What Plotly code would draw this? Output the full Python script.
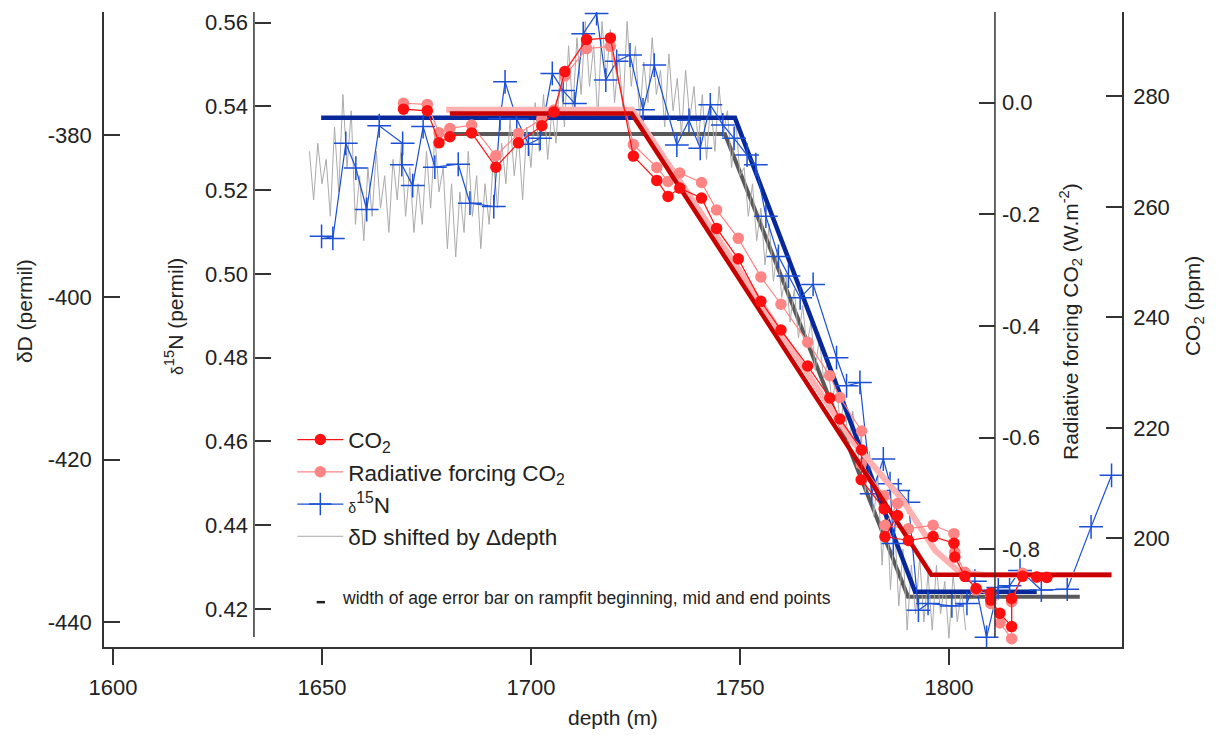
import plotly.graph_objects as go

FONT = "Liberation Sans, Arial, sans-serif"
TXT = "#222222"
AX = "#333333"

# ---------------- data ----------------
co2_depth = [1669.5, 1675.2, 1678.0, 1680.6, 1685.8, 1691.6, 1697.0, 1702.6, 1705.5, 1708.1,
             1713.3, 1719.0, 1724.5, 1730.1, 1732.8, 1735.6, 1740.8, 1744.4, 1749.6, 1755.0,
             1759.8, 1766.2, 1771.5, 1773.9, 1779.1, 1779.0, 1784.5, 1787.7, 1784.7, 1790.3,
             1796.2, 1801.2, 1801.4, 1803.8, 1806.5, 1810.0, 1810.0, 1812.2, 1815.0, 1815.0,
             1817.6, 1821.0, 1823.4]
co2_ppm = [277.7, 277.4, 271.6, 272.7, 273.4, 267.2, 271.6, 274.7, 277.2, 284.5,
           290.3, 290.6, 269.2, 264.8, 261.9, 263.4, 261.6, 256.1, 250.6, 242.9,
           237.7, 231.2, 225.4, 221.6, 216.0, 210.6, 205.3, 204.1, 200.3, 199.6,
           200.3, 199.1, 196.6, 193.1, 190.9, 190.1, 188.8, 186.4, 184.0, 189.1,
           193.1, 193.0, 192.9]

rf_depth = co2_depth
rf_wm2 = [-0.001, -0.003, -0.054, -0.046, -0.040, -0.095, -0.055, -0.029, -0.013, 0.048,
          0.097, 0.101, -0.075, -0.116, -0.141, -0.126, -0.143, -0.192, -0.243, -0.312,
          -0.361, -0.429, -0.489, -0.528, -0.588, -0.647, -0.704, -0.718, -0.757, -0.763,
          -0.757, -0.772, -0.805, -0.841, -0.873, -0.882, -0.897, -0.932, -0.960, -0.894,
          -0.843, -0.850, -0.850]

d15n_depth = [1649.9, 1652.6, 1655.7, 1658.1, 1660.7, 1663.7, 1669.3, 1669.1, 1671.7, 1674.2,
              1677.0, 1682.6, 1685.4, 1691.1, 1692.6, 1693.8, 1696.6, 1699.4, 1702.2, 1705.1,
              1707.7, 1710.5, 1712.5, 1715.7, 1717.9, 1720.5, 1723.7, 1726.8, 1729.5, 1734.9,
              1737.8, 1740.5, 1742.9, 1745.9, 1748.6, 1751.7, 1753.8, 1756.2, 1759.2, 1761.6,
              1764.4, 1767.5, 1773.1, 1775.5, 1778.7, 1781.5, 1784.3, 1785.9, 1786.7, 1787.9,
              1790.3, 1792.7, 1795.0, 1800.7, 1804.3, 1806.2, 1809.0, 1811.8, 1814.5, 1817.0,
              1822.1, 1828.3, 1834.0, 1838.9]
d15n_permil = [0.5090, 0.5085, 0.5312, 0.5253, 0.5154, 0.5354, 0.5312, 0.5261, 0.5211, 0.5352,
               0.5255, 0.5262, 0.5169, 0.5161, 0.5371, 0.5459, 0.5370, 0.5310, 0.5324, 0.5479,
               0.5438, 0.5407, 0.5574, 0.5622, 0.5463, 0.5508, 0.5523, 0.5392, 0.5499, 0.5308,
               0.5367, 0.5300, 0.5404, 0.5356, 0.5324, 0.5284, 0.5261, 0.5138, 0.5042, 0.4995,
               0.4943, 0.4975, 0.4800, 0.4733, 0.4741, 0.4475, 0.4558, 0.4499, 0.4356, 0.4483,
               0.4455, 0.4197, 0.4213, 0.4207, 0.4213, 0.4266, 0.4132, 0.4251, 0.4255, 0.4292,
               0.4245, 0.4247, 0.4396, 0.4519]

# deltaD shifted by delta-depth: one value per metre starting at 1647 m
dD_start = 1647
dD_step = 1
dD_permil = [-382, -388, -381, -386, -383, -390, -379, -387, -375, -384,
             -377, -391, -385, -393, -384, -390, -382, -389, -385, -392,
             -383, -388, -381, -390, -384, -392, -386, -391, -382, -389,
             -380, -387, -384, -394, -386, -395, -387, -392, -382, -390,
             -385, -394, -386, -391, -383, -389, -381, -386, -378, -385,
             -380, -388, -379, -384, -376, -382, -375, -383, -377, -381,
             -372, -379, -369, -377, -368, -375, -366, -374, -369, -378,
             -366, -373, -367, -376, -370, -377, -366, -374, -369, -378,
             -371, -376, -368, -375, -372, -379, -370, -377, -373, -380,
             -372, -378, -374, -381, -375, -383, -376, -382, -374, -380,
             -377, -384, -378, -385, -384, -390, -386, -393, -389, -396,
             -391, -398, -394, -400, -397, -403, -399, -405, -401, -406,
             -403, -409, -405, -410, -408, -413, -410, -416, -412, -419,
             -414, -421, -417, -424, -419, -427, -422, -433, -424, -436,
             -428, -438, -431, -441, -433, -439, -432, -440, -434, -441,
             -433, -439, -435, -442, -434, -440, -436, -441]

# ramp fits
co2_fit_depth = [1680.6, 1724.1, 1795.8, 1838.9]
co2_fit_ppm = [276.9, 276.9, 193.4, 193.4]
rf_fit_depth = [1679.7, 1724.2, 1752.4, 1776.8, 1789.0, 1796.7, 1802.6, 1808.6, 1838.8]
rf_fit_wm2 = [-0.0125, -0.0125, -0.329, -0.605, -0.7125, -0.802, -0.841, -0.846, -0.846]
d15n_fit_depth = [1649.8, 1748.8, 1791.9, 1821.0]
d15n_fit_permil = [0.5373, 0.5373, 0.4241, 0.4241]
dD_fit_depth = [1681.3, 1746.4, 1790.2, 1831.3]
dD_fit_permil = [-379.85, -379.85, -436.9, -436.9]

x_ticks = [1600, 1650, 1700, 1750, 1800]
dD_ticks = [-440, -420, -400, -380]
d15n_ticks = [0.42, 0.44, 0.46, 0.48, 0.50, 0.52, 0.54, 0.56]
rf_ticks = [-0.8, -0.6, -0.4, -0.2, 0.0]
co2_ticks = [200, 220, 240, 260, 280]

# ---------------- figure ----------------
fig = go.Figure()

# ramp fits (drawn under the data of the same axis)
fig.add_trace(go.Scatter(x=dD_fit_depth, y=dD_fit_permil, yaxis="y", mode="lines",
                         line=dict(color="#595959", width=4), showlegend=False, hoverinfo="skip"))
fig.add_trace(go.Scatter(x=d15n_fit_depth, y=d15n_fit_permil, yaxis="y2", mode="lines",
                         line=dict(color="#06289a", width=4.5), showlegend=False, hoverinfo="skip"))
fig.add_trace(go.Scatter(x=rf_fit_depth, y=rf_fit_wm2, yaxis="y3", mode="lines",
                         line=dict(color="#ffb0b0", width=6),
                         showlegend=False, hoverinfo="skip"))
fig.add_trace(go.Scatter(x=co2_fit_depth, y=co2_fit_ppm, yaxis="y4", mode="lines",
                         line=dict(color="#c80000", width=4.5), showlegend=False, hoverinfo="skip"))

# data
fig.add_trace(go.Scatter(x=co2_depth, y=co2_ppm, yaxis="y4", mode="lines+markers",
                         name="CO<sub>2</sub>", legendrank=1,
                         line=dict(color="#ff1010", width=1.2),
                         marker=dict(symbol="circle", size=11.5, color="#ff1010")))
fig.add_trace(go.Scatter(x=rf_depth, y=rf_wm2, yaxis="y3", mode="lines+markers",
                         name="Radiative forcing CO<sub>2</sub>", legendrank=2,
                         line=dict(color="#ff8585", width=1.2),
                         marker=dict(symbol="circle", size=11.5, color="#ff8585")))
fig.add_trace(go.Scatter(x=d15n_depth, y=d15n_permil, yaxis="y2", mode="lines+markers",
                         name="<span style='font-size:14px'>δ</span><sup>15</sup>N", legendrank=3,
                         line=dict(color="#1a4fd6", width=1.2),
                         marker=dict(symbol="cross-thin", size=17,
                                     line=dict(color="#1a4fd6", width=1.5))))
fig.add_trace(go.Scatter(x0=dD_start, dx=dD_step, y=dD_permil, yaxis="y", mode="lines",
                         name="δD shifted by Δdepth", legendrank=4,
                         line=dict(color="#ababab", width=1)))

tick_common = dict(showgrid=False, zeroline=False, tickfont=dict(family=FONT, size=22, color=TXT),
                   tickcolor=AX, tickwidth=1.5, ticklen=16)

fig.update_layout(
    width=1222, height=735, autosize=False,
    margin=dict(l=104, r=100, t=10, b=88),
    paper_bgcolor="white", plot_bgcolor="white",
    font=dict(family=FONT, size=22, color=TXT),
    showlegend=True,
    legend=dict(x=0.185, y=0.360, xanchor="left", yanchor="top", bgcolor="rgba(0,0,0,0)",
                font=dict(family=FONT, size=22.5, color=TXT), itemwidth=46, tracegroupgap=0),
    xaxis=dict(range=[1597.85, 1841.4], tickvals=x_ticks, ticktext=[str(v) for v in x_ticks],
               ticks="outside", showline=True, linecolor=AX, linewidth=1.5,
               ticklabelstandoff=4, **tick_common),
    yaxis=dict(range=[-443.08, -364.83], tickvals=dD_ticks, ticktext=[str(v) for v in dD_ticks],
               ticks="inside", side="left", showline=True, linecolor=AX, linewidth=1.5,
               ticklabelstandoff=6, **tick_common),
    yaxis2=dict(range=[0.41090, 0.56257], tickvals=d15n_ticks,
                ticktext=["%.2f" % v for v in d15n_ticks],
                overlaying="y", anchor="free", position=0.1473, side="left",
                ticks="inside", showline=False, ticklabelstandoff=6, **tick_common),
    yaxis3=dict(range=[-0.975, 0.1625], tickvals=rf_ticks,
                ticktext=["%.1f" % v if v != 0 else "0.0" for v in rf_ticks],
                overlaying="y", anchor="free", position=0.8752, side="right",
                ticks="inside", showline=False, ticklabelstandoff=6, **tick_common),
    yaxis4=dict(range=[180.31, 295.29], tickvals=co2_ticks, ticktext=[str(v) for v in co2_ticks],
                overlaying="y", anchor="x", side="right", ticks="inside",
                showline=True, linecolor=AX, linewidth=1.5, ticklabelstandoff=5, **tick_common),
)

# free axis lines (shorter than the plot height, as in the original)
for xp in (0.1473, 0.8752):
    fig.add_shape(type="line", xref="paper", yref="paper", x0=xp, x1=xp, y0=0.0157, y1=1.0,
                  line=dict(color=AX, width=1.5))
# small age error bar mark
fig.add_shape(type="line", xref="paper", yref="paper", x0=0.2089, x1=0.2171, y0=0.0706, y1=0.0706,
              line=dict(color="#222222", width=2.5))

ann = dict(xref="paper", yref="paper", showarrow=False, font=dict(family=FONT, size=21, color=TXT))
fig.add_annotation(text="δD (permil)", x=-0.0786, y=0.529, textangle=-90,
                   xanchor="center", yanchor="middle", **ann)
fig.add_annotation(text="<span style='font-size:16px'>δ</span><sup>15</sup>N (permil)",
                   x=0.0688, y=0.5196, textangle=-90, xanchor="center", yanchor="middle", **ann)
fig.add_annotation(text="Radiative forcing CO<sub>2</sub> (W.m<sup>-2</sup>)",
                   x=0.9489, y=0.5133, textangle=-90, xanchor="center", yanchor="middle", **ann)
fig.add_annotation(text="CO<sub>2</sub> (ppm)", x=1.0707, y=0.5369, textangle=-90,
                   xanchor="center", yanchor="middle", **ann)
fig.add_annotation(text="depth (m)", x=0.5, y=-0.1115, xanchor="center", yanchor="middle", **ann)
fig.add_annotation(text="width of age error bar on rampfit beginning, mid and end points",
                   x=0.2318, y=0.0769, xanchor="left", yanchor="middle",
                   xref="paper", yref="paper", showarrow=False,
                   font=dict(family=FONT, size=17.5, color=TXT))

fig.write_html("out.html")
